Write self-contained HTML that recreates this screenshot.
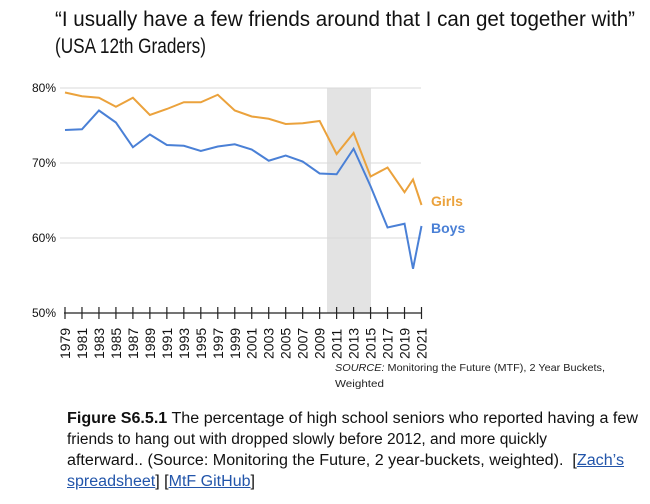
<!DOCTYPE html>
<html><head><style>
body{margin:0;width:650px;height:504px;background:#fff;position:relative;overflow:hidden;font-family:"Liberation Sans",sans-serif}
.ln{position:absolute;white-space:nowrap;transform-origin:0 0}
.t{font-size:21px;color:#111}
.src{font-size:10.5px;color:#222}
.cap{font-size:15.5px;color:#111}
a{color:#2255aa}
</style></head><body>
<div class="ln t" style="left:55px;top:8px" data-w="580">“I usually have a few friends around that I can get together with”</div>
<div class="ln t" style="left:55px;top:35px" data-w="151">(USA 12th Graders)</div>
<svg width="650" height="504" style="position:absolute;left:0;top:0">
<rect x="327" y="88" width="44" height="225" fill="#e3e3e3"/>
<g stroke="#d9d9d9" stroke-width="1">
<line x1="60" y1="88" x2="421" y2="88"/><line x1="60" y1="163" x2="421" y2="163"/><line x1="60" y1="238" x2="421" y2="238"/>
</g>
<g font-size="12" fill="#111" text-anchor="end" font-family="Liberation Sans">
<text x="56" y="92">80%</text><text x="56" y="167">70%</text><text x="56" y="242">60%</text><text x="56" y="317">50%</text>
</g>
<line x1="64" y1="313" x2="422" y2="313" stroke="#222" stroke-width="1.3"/>
<g id="ticks" stroke="#222" stroke-width="1.2"></g>
<g id="labs" font-size="14" fill="#111" font-family="Liberation Sans"></g>
<polyline id="og" fill="none" stroke="#EBA23C" stroke-width="2"/>
<polyline id="bl" fill="none" stroke="#4A80D6" stroke-width="2"/>
<text x="431" y="206" font-size="14" font-weight="bold" fill="#EBA23C">Girls</text>
<text x="431" y="233" font-size="14" font-weight="bold" fill="#4A80D6">Boys</text>
</svg>
<div class="ln src" style="left:335px;top:362px" data-w="270"><i>SOURCE:</i> Monitoring the Future (MTF), 2 Year Buckets,</div>
<div class="ln src" style="left:335px;top:378px" data-w="49">Weighted</div>
<div class="ln cap" style="left:67px;top:410px" data-w="571"><b>Figure S6.5.1</b> The percentage of high school seniors who reported having a few</div>
<div class="ln cap" style="left:67px;top:431px" data-w="480">friends to hang out with dropped slowly before 2012, and more quickly</div>
<div class="ln cap" style="left:67px;top:452px" data-w="557">afterward.. (Source: Monitoring the Future, 2 year-buckets, weighted). &nbsp;[<a href="#">Zach’s</a></div>
<div class="ln cap" style="left:67px;top:473px" data-w="188"><a href="#">spreadsheet</a>] [<a href="#">MtF GitHub</a>]</div>
<script>
var yrs=[],x=function(y){return 65+(y-1979)*356.5/42};
for(var y=1979;y<=2019;y+=2)yrs.push(y);yrs.push(2020,2021);
var g=[79.4,78.9,78.7,77.5,78.7,76.4,77.2,78.1,78.1,79.1,77.0,76.2,75.9,75.2,75.3,75.6,71.2,74.0,68.2,69.4,66.1,67.8,64.4];
var b=[74.4,74.5,77.0,75.4,72.1,73.8,72.4,72.3,71.6,72.2,72.5,71.8,70.3,71.0,70.2,68.6,68.5,71.9,66.9,61.4,61.9,55.9,61.6];
var Y=function(v){return 88+(80-v)*7.5};
document.getElementById('og').setAttribute('points',yrs.map(function(y,i){return x(y)+','+Y(g[i])}).join(' '));
document.getElementById('bl').setAttribute('points',yrs.map(function(y,i){return x(y)+','+Y(b[i])}).join(' '));
var t='',l='';
for(var y=1979;y<=2021;y+=2){var xx=x(y);t+='<line x1="'+xx+'" y1="307" x2="'+xx+'" y2="319"/>';
l+='<text transform="translate('+(xx+5)+',359) rotate(-90)">'+y+'</text>';}
document.getElementById('ticks').innerHTML=t;document.getElementById('labs').innerHTML=l;
var ls=document.querySelectorAll('.ln');
for(var i=0;i<ls.length;i++){var e=ls[i],w=e.getBoundingClientRect().width,tw=+e.getAttribute('data-w');if(w>0)e.style.transform='scaleX('+(tw/w)+')';}
</script>
</body></html>
